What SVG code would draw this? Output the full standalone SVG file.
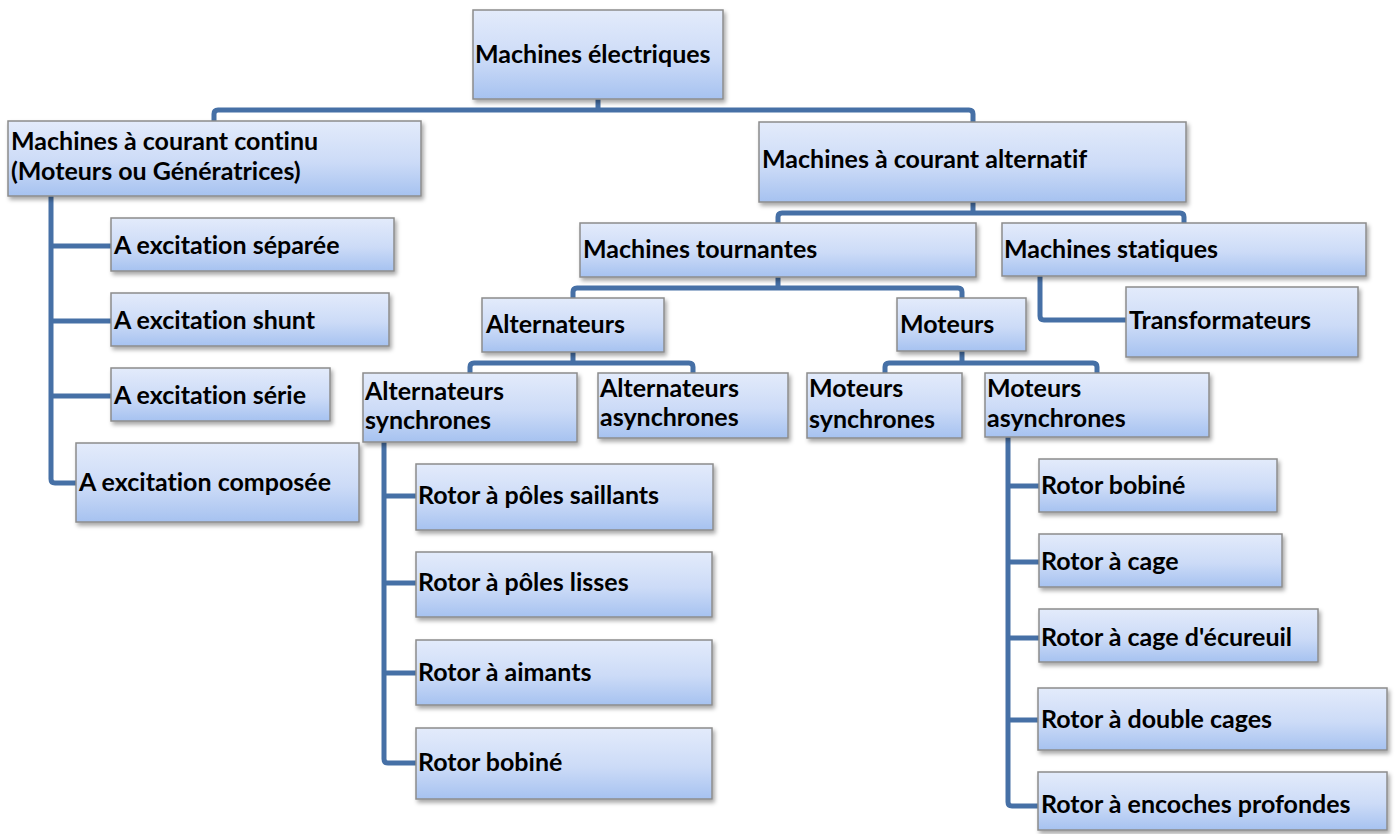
<svg xmlns="http://www.w3.org/2000/svg" width="1395" height="834" viewBox="0 0 1395 834">
  <style>
    .box { fill: url(#boxFill); stroke: #8c8c8c; stroke-width: 1.5; filter: url(#shadow); }
    .lbl { font-family: Lato, "Open Sans", "Liberation Sans", sans-serif; font-weight: bold; font-size: 25px; fill: #000; font-variant-ligatures: none; }
    .wire { fill: none; stroke: #4670a6; stroke-width: 5; stroke-linecap: butt; stroke-linejoin: round; }
  </style>
  <defs>
    <linearGradient id="boxFill" x1="0" y1="0" x2="0" y2="1">
      <stop offset="0" stop-color="#e3ebfb"/>
      <stop offset="0.55" stop-color="#ccdbf7"/>
      <stop offset="1" stop-color="#a6c2f0"/>
    </linearGradient>
    <filter id="shadow" x="-10%" y="-20%" width="125%" height="150%">
      <feDropShadow dx="2" dy="3" stdDeviation="2" flood-color="#000" flood-opacity="0.35"/>
    </filter>
  </defs>
  <rect width="1395" height="834" fill="#fff"/>

  <!-- tree connectors -->
  <g id="connectors" class="wire">
    <path d="M598,99 V110"/>
    <path d="M214,121 V114 Q214,110 218,110 H969 Q973,110 973,114 V122"/>
    <path d="M973,202 V213"/>
    <path d="M778,223 V217 Q778,213 782,213 H1180 Q1184,213 1184,217 V223"/>
    <path d="M778,277 V288"/>
    <path d="M573,298 V292 Q573,288 577,288 H958 Q962,288 962,292 V298"/>
    <path d="M573,352 V363"/>
    <path d="M470,373 V367 Q470,363 474,363 H689 Q693,363 693,367 V373"/>
    <path d="M962,351 V363"/>
    <path d="M885,373 V367 Q885,363 889,363 H1093 Q1097,363 1097,367 V373"/>
    <path d="M1040,276 V316 Q1040,320 1044,320 H1126"/>
    <path d="M51,196 V479 Q51,483 55,483 H76"/>
    <path d="M51,246 H111 M51,321 H111 M51,396 H111"/>
    <path d="M384,442 V759 Q384,763 388,763 H416"/>
    <path d="M384,496 H416 M384,583 H416 M384,673 H416"/>
    <path d="M1008,437 V802 Q1008,806 1012,806 H1038"/>
    <path d="M1008,486 H1039 M1008,562 H1039 M1008,638 H1039 M1008,720 H1038"/>
  </g>

  <g id="machines-electriques">
    <rect class="box" x="473" y="10" width="250" height="89"/>
    <text class="lbl" x="475" y="63">Machines électriques</text>
  </g>
  <g id="courant-continu">
    <rect class="box" x="8" y="121" width="413" height="75"/>
    <text class="lbl" x="11" y="150">Machines à courant continu</text>
    <text class="lbl" x="11" y="180">(Moteurs ou Génératrices)</text>
  </g>
  <g id="courant-alternatif">
    <rect class="box" x="759" y="122" width="427" height="80"/>
    <text class="lbl" x="762" y="168">Machines à courant alternatif</text>
  </g>
  <g id="machines-tournantes">
    <rect class="box" x="580" y="223" width="396" height="54"/>
    <text class="lbl" x="583" y="258">Machines tournantes</text>
  </g>
  <g id="machines-statiques">
    <rect class="box" x="1002" y="223" width="364" height="53"/>
    <text class="lbl" x="1004" y="258">Machines statiques</text>
  </g>
  <g id="alternateurs">
    <rect class="box" x="482" y="298" width="182" height="54"/>
    <text class="lbl" x="486" y="333">Alternateurs</text>
  </g>
  <g id="moteurs">
    <rect class="box" x="897" y="298" width="129" height="53"/>
    <text class="lbl" x="900" y="333">Moteurs</text>
  </g>
  <g id="transformateurs">
    <rect class="box" x="1126" y="287" width="232" height="70"/>
    <text class="lbl" x="1129" y="329">Transformateurs</text>
  </g>
  <g id="alternateurs-synchrones">
    <rect class="box" x="363" y="373" width="214" height="69"/>
    <text class="lbl" x="365" y="400">Alternateurs</text>
    <text class="lbl" x="365" y="429">synchrones</text>
  </g>
  <g id="alternateurs-asynchrones">
    <rect class="box" x="598" y="373" width="190" height="65"/>
    <text class="lbl" x="600" y="397">Alternateurs</text>
    <text class="lbl" x="600" y="426">asynchrones</text>
  </g>
  <g id="moteurs-synchrones">
    <rect class="box" x="807" y="373" width="155" height="65"/>
    <text class="lbl" x="809" y="397">Moteurs</text>
    <text class="lbl" x="809" y="428">synchrones</text>
  </g>
  <g id="moteurs-asynchrones">
    <rect class="box" x="985" y="373" width="224" height="64"/>
    <text class="lbl" x="987" y="397">Moteurs</text>
    <text class="lbl" x="987" y="427">asynchrones</text>
  </g>
  <g id="excitation-separee">
    <rect class="box" x="111" y="218" width="283" height="53"/>
    <text class="lbl" x="114" y="254">A excitation séparée</text>
  </g>
  <g id="excitation-shunt">
    <rect class="box" x="111" y="293" width="278" height="53"/>
    <text class="lbl" x="114" y="329">A excitation shunt</text>
  </g>
  <g id="excitation-serie">
    <rect class="box" x="111" y="368" width="219" height="53"/>
    <text class="lbl" x="114" y="404">A excitation série</text>
  </g>
  <g id="excitation-composee">
    <rect class="box" x="76" y="443" width="283" height="79"/>
    <text class="lbl" x="79" y="491">A excitation composée</text>
  </g>
  <g id="rotor-poles-saillants">
    <rect class="box" x="416" y="464" width="297" height="66"/>
    <text class="lbl" x="418" y="504">Rotor à pôles saillants</text>
  </g>
  <g id="rotor-poles-lisses">
    <rect class="box" x="416" y="552" width="296" height="65"/>
    <text class="lbl" x="418" y="591">Rotor à pôles lisses</text>
  </g>
  <g id="rotor-aimants">
    <rect class="box" x="416" y="640" width="296" height="65"/>
    <text class="lbl" x="418" y="681">Rotor à aimants</text>
  </g>
  <g id="rotor-bobine-alt">
    <rect class="box" x="416" y="728" width="296" height="71"/>
    <text class="lbl" x="418" y="771">Rotor bobiné</text>
  </g>
  <g id="rotor-bobine-mot">
    <rect class="box" x="1039" y="459" width="238" height="53"/>
    <text class="lbl" x="1041" y="494">Rotor bobiné</text>
  </g>
  <g id="rotor-cage">
    <rect class="box" x="1039" y="534" width="243" height="53"/>
    <text class="lbl" x="1041" y="570">Rotor à cage</text>
  </g>
  <g id="rotor-cage-ecureuil">
    <rect class="box" x="1039" y="609" width="279" height="53"/>
    <text class="lbl" x="1041" y="646">Rotor à cage d'écureuil</text>
  </g>
  <g id="rotor-double-cages">
    <rect class="box" x="1038" y="688" width="349" height="62"/>
    <text class="lbl" x="1041" y="728">Rotor à double cages</text>
  </g>
  <g id="rotor-encoches">
    <rect class="box" x="1038" y="772" width="349" height="58"/>
    <text class="lbl" x="1041" y="813">Rotor à encoches profondes</text>
  </g>
</svg>
